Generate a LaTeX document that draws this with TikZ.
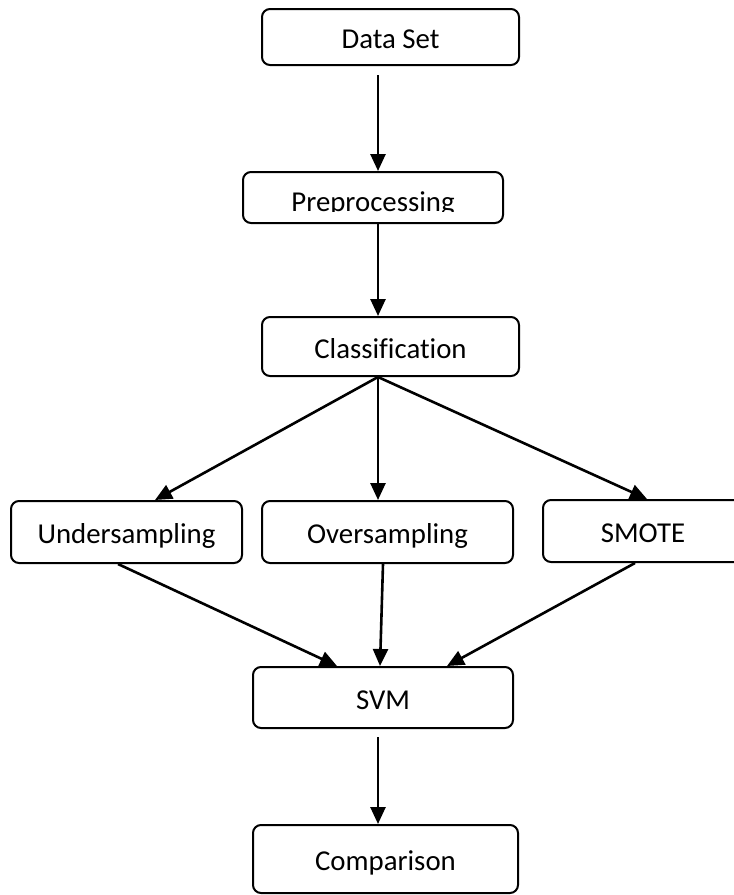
\documentclass[tikz,border=0pt]{standalone}
\usepackage{fontspec}
\setmainfont{Carlito}[Ligatures=NoCommon]
\usepackage{tikz}
\usetikzlibrary{arrows.meta, positioning, calc}

\begin{document}
\begin{tikzpicture}[x=0.5pt, y=-0.5pt]
\tikzstyle{stage}=[rectangle, rounded corners=4pt, draw=black, line width=1pt, inner sep=0pt, text centered, text height=13pt, text depth=1.5pt, font=\fontsize{14.4}{17}\selectfont]
\tikzstyle{arrow}=[line width=1.3pt, -{Triangle[length=8.5pt, width=7.5pt]}]

\useasboundingbox (0,0) rectangle (734,895);
\coordinate (spine) at (378,0);

\node (dataset) [stage, minimum width=128.5pt, minimum height=28pt] at (390.5,37) {Data Set};
% the label of this box is cut off at its baseline
\node (prep) [stage, minimum width=130pt, minimum height=25.5pt,
  path picture={
    \clip ([yshift=6pt]path picture bounding box.south west) rectangle (path picture bounding box.north east);
    \node [anchor=base, inner sep=0pt, font=\fontsize{14.4}{17}\selectfont] at ([yshift=-6.75pt]path picture bounding box.center) {Preprocessing};
  }] at (373,197.5) {};
\node (classif) [stage, minimum width=128.5pt, minimum height=29.5pt] at (390.5,346.5) {Classification};
\node (under) [stage, minimum width=115.5pt, minimum height=31pt] at (126.5,532) {Undersampling};
\node (over) [stage, minimum width=125.5pt, minimum height=31pt] at (387.5,532) {Oversampling};
\node (smote) [stage, minimum width=100pt, minimum height=31pt] at (643,531) {SMOTE};
\node (svm) [stage, minimum width=130pt, minimum height=30.5pt] at (383,697.5) {SVM};
\node (comp) [stage, minimum width=132.5pt, minimum height=34pt] at (385.5,859) {Comparison};

\draw [arrow] ([yshift=-4.5pt]dataset.south -| spine) -- (prep.north -| spine);
\draw [arrow] (prep.south -| spine) -- (classif.north -| spine);
\draw [arrow] (classif.south -| spine) -- ($(under.north)+(28.5,0)$);
\draw [arrow] (classif.south -| spine) -- (over.north -| spine);
\draw [arrow] (classif.south -| spine) -- ($(smote.north)+(4,0)$);
\draw [arrow] ($(under.south)+(-8.5,0)$) -- ($(svm.north)+(-46,0)$);
\draw [arrow] ($(over.south)+(-4.5,0)$) -- ($(svm.north)+(-3,0)$);
\draw [arrow] ($(smote.south)+(-8,0)$) -- ($(svm.north)+(64,0)$);
\draw [arrow] ([yshift=-4pt]svm.south -| spine) -- (comp.north -| spine);

\end{tikzpicture}
\end{document}
